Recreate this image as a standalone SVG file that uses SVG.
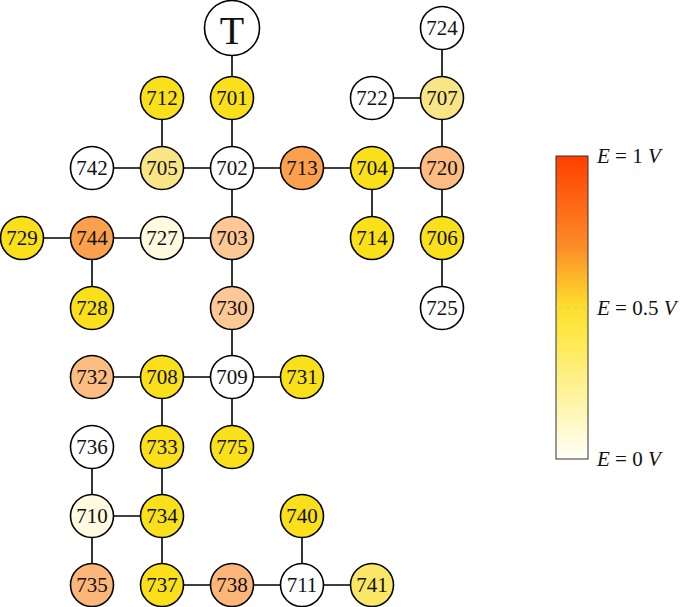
<svg xmlns="http://www.w3.org/2000/svg" width="685" height="607" viewBox="0 0 685 607">
<style>
.n circle{stroke:#000;stroke-width:1.6}
.n text{font-family:"Liberation Serif","DejaVu Serif",serif;font-size:21px;text-anchor:middle;dominant-baseline:central;fill:#111}
.e line{stroke:#000;stroke-width:1.6}
.w{fill:#fff}.y{fill:#f9e01a}.ly{fill:#f9e585}.my{fill:#fbe766}
.o1{fill:#fba04c}.o2{fill:#fdbd82}.o3{fill:#fdc796}.o4{fill:#fdb67a}.c{fill:#fffae0}
.lg{font-family:"Liberation Serif","DejaVu Serif",serif;font-size:21px;fill:#111}
</style>
<defs>
<linearGradient id="g" x1="0" y1="0" x2="0" y2="1">
<stop offset="0" stop-color="#ff3f00"/>
<stop offset="0.3" stop-color="#fc8c27"/>
<stop offset="0.5" stop-color="#fde02c"/>
<stop offset="0.62" stop-color="#fdea55"/>
<stop offset="1" stop-color="#fffff8"/>
</linearGradient>
</defs>
<g class="e" id="connectors">
<line x1="232" y1="28" x2="232" y2="98"/>
<line x1="232" y1="98" x2="232" y2="168"/>
<line x1="162" y1="98" x2="162" y2="168"/>
<line x1="92" y1="168" x2="162" y2="168"/>
<line x1="162" y1="168" x2="232" y2="168"/>
<line x1="232" y1="168" x2="302" y2="168"/>
<line x1="302" y1="168" x2="372" y2="168"/>
<line x1="372" y1="168" x2="442" y2="168"/>
<line x1="372" y1="98" x2="442" y2="98"/>
<line x1="442" y1="28" x2="442" y2="98"/>
<line x1="442" y1="98" x2="442" y2="168"/>
<line x1="372" y1="168" x2="372" y2="238"/>
<line x1="442" y1="168" x2="442" y2="238"/>
<line x1="442" y1="238" x2="442" y2="308"/>
<line x1="232" y1="168" x2="232" y2="238"/>
<line x1="22" y1="238" x2="92" y2="238"/>
<line x1="92" y1="238" x2="162" y2="238"/>
<line x1="162" y1="238" x2="232" y2="238"/>
<line x1="92" y1="238" x2="92" y2="308"/>
<line x1="232" y1="238" x2="232" y2="308"/>
<line x1="232" y1="308" x2="232" y2="377"/>
<line x1="92" y1="377" x2="162" y2="377"/>
<line x1="162" y1="377" x2="232" y2="377"/>
<line x1="232" y1="377" x2="302" y2="377"/>
<line x1="162" y1="377" x2="162" y2="447"/>
<line x1="232" y1="377" x2="232" y2="447"/>
<line x1="162" y1="447" x2="162" y2="516"/>
<line x1="92" y1="447" x2="92" y2="516"/>
<line x1="92" y1="516" x2="162" y2="516"/>
<line x1="92" y1="516" x2="92" y2="585"/>
<line x1="162" y1="516" x2="162" y2="585"/>
<line x1="162" y1="585" x2="232" y2="585"/>
<line x1="232" y1="585" x2="302" y2="585"/>
<line x1="302" y1="585" x2="372" y2="585"/>
<line x1="302" y1="516" x2="302" y2="585"/>
</g>
<g class="n" id="T"><circle cx="232" cy="28" r="27.5" class="w"/><text x="232" y="30" style="font-size:40px">T</text></g>
<g class="n" id="n724"><circle cx="442" cy="28" r="21.5" class="w"/><text x="442" y="28">724</text></g>
<g class="n" id="n712"><circle cx="162" cy="98" r="21.5" class="y"/><text x="162" y="98">712</text></g>
<g class="n" id="n701"><circle cx="232" cy="98" r="21.5" class="y"/><text x="232" y="98">701</text></g>
<g class="n" id="n722"><circle cx="372" cy="98" r="21.5" class="w"/><text x="372" y="98">722</text></g>
<g class="n" id="n707"><circle cx="442" cy="98" r="21.5" class="ly"/><text x="442" y="98">707</text></g>
<g class="n" id="n742"><circle cx="92" cy="168" r="21.5" class="w"/><text x="92" y="168">742</text></g>
<g class="n" id="n705"><circle cx="162" cy="168" r="21.5" class="ly"/><text x="162" y="168">705</text></g>
<g class="n" id="n702"><circle cx="232" cy="168" r="21.5" class="w"/><text x="232" y="168">702</text></g>
<g class="n" id="n713"><circle cx="302" cy="168" r="21.5" class="o1"/><text x="302" y="168">713</text></g>
<g class="n" id="n704"><circle cx="372" cy="168" r="21.5" class="y"/><text x="372" y="168">704</text></g>
<g class="n" id="n720"><circle cx="442" cy="168" r="21.5" class="o2"/><text x="442" y="168">720</text></g>
<g class="n" id="n729"><circle cx="22" cy="238" r="21.5" class="y"/><text x="22" y="238">729</text></g>
<g class="n" id="n744"><circle cx="92" cy="238" r="21.5" class="o1"/><text x="92" y="238">744</text></g>
<g class="n" id="n727"><circle cx="162" cy="238" r="21.5" class="c"/><text x="162" y="238">727</text></g>
<g class="n" id="n703"><circle cx="232" cy="238" r="21.5" class="o3"/><text x="232" y="238">703</text></g>
<g class="n" id="n714"><circle cx="372" cy="238" r="21.5" class="y"/><text x="372" y="238">714</text></g>
<g class="n" id="n706"><circle cx="442" cy="238" r="21.5" class="y"/><text x="442" y="238">706</text></g>
<g class="n" id="n728"><circle cx="92" cy="308" r="21.5" class="y"/><text x="92" y="308">728</text></g>
<g class="n" id="n730"><circle cx="232" cy="308" r="21.5" class="o3"/><text x="232" y="308">730</text></g>
<g class="n" id="n725"><circle cx="442" cy="308" r="21.5" class="w"/><text x="442" y="308">725</text></g>
<g class="n" id="n732"><circle cx="92" cy="377" r="21.5" class="o2"/><text x="92" y="377">732</text></g>
<g class="n" id="n708"><circle cx="162" cy="377" r="21.5" class="y"/><text x="162" y="377">708</text></g>
<g class="n" id="n709"><circle cx="232" cy="377" r="21.5" class="w"/><text x="232" y="377">709</text></g>
<g class="n" id="n731"><circle cx="302" cy="377" r="21.5" class="y"/><text x="302" y="377">731</text></g>
<g class="n" id="n736"><circle cx="92" cy="447" r="21.5" class="w"/><text x="92" y="447">736</text></g>
<g class="n" id="n733"><circle cx="162" cy="447" r="21.5" class="y"/><text x="162" y="447">733</text></g>
<g class="n" id="n775"><circle cx="232" cy="447" r="21.5" class="y"/><text x="232" y="447">775</text></g>
<g class="n" id="n710"><circle cx="92" cy="516" r="21.5" class="c"/><text x="92" y="516">710</text></g>
<g class="n" id="n734"><circle cx="162" cy="516" r="21.5" class="y"/><text x="162" y="516">734</text></g>
<g class="n" id="n740"><circle cx="302" cy="516" r="21.5" class="y"/><text x="302" y="516">740</text></g>
<g class="n" id="n735"><circle cx="92" cy="585" r="21.5" class="o4"/><text x="92" y="585">735</text></g>
<g class="n" id="n737"><circle cx="162" cy="585" r="21.5" class="y"/><text x="162" y="585">737</text></g>
<g class="n" id="n738"><circle cx="232" cy="585" r="21.5" class="o4"/><text x="232" y="585">738</text></g>
<g class="n" id="n711"><circle cx="302" cy="585" r="21.5" class="w"/><text x="302" y="585">711</text></g>
<g class="n" id="n741"><circle cx="372" cy="585" r="21.5" class="my"/><text x="372" y="585">741</text></g>
<g id="legend">
<rect x="556" y="156" width="32" height="303" fill="url(#g)" stroke="#333" stroke-width="1"/>
<line x1="556" y1="308" x2="588" y2="308" stroke="#c8c8a0" stroke-width="0.8" stroke-dasharray="5,4"/>
<text class="lg" x="597" y="163"><tspan font-style="italic">E</tspan> = 1 <tspan font-style="italic">V</tspan></text>
<text class="lg" x="597" y="315"><tspan font-style="italic">E</tspan> = 0.5 <tspan font-style="italic">V</tspan></text>
<text class="lg" x="597" y="466"><tspan font-style="italic">E</tspan> = 0 <tspan font-style="italic">V</tspan></text>
</g>
</svg>
